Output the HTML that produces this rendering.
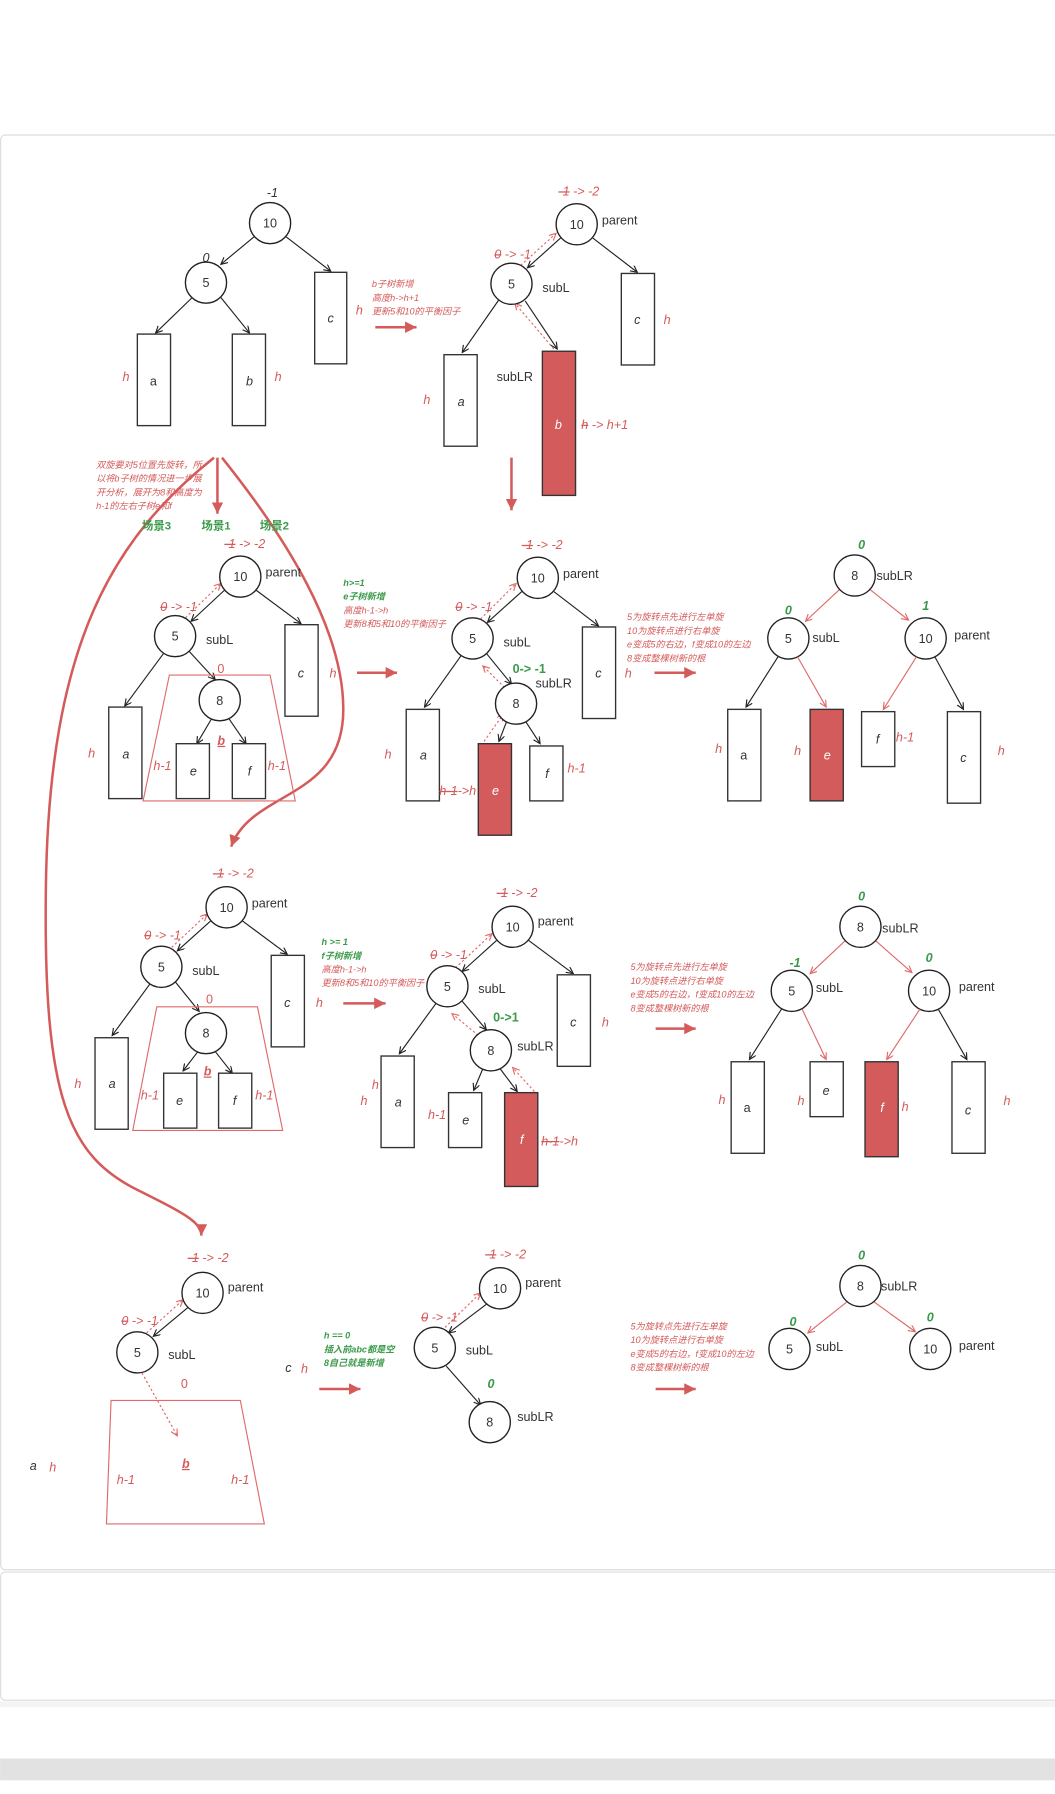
<!DOCTYPE html>
<html><head><meta charset="utf-8"><style>
html,body{margin:0;padding:0;background:#fff;}
svg{display:block;}
text{font-family:"Liberation Sans","Noto Sans CJK SC",sans-serif;}
.n{font-size:11px;fill:#333;text-anchor:middle;}
.l{font-size:11px;fill:#333;}
.i{font-style:italic;font-size:11px;fill:#333;text-anchor:middle;}
.r{font-style:italic;font-size:11px;fill:#d55a5a;}
.g{font-style:italic;font-size:11px;fill:#3a9a4a;font-weight:bold;}
.rs{font-style:italic;font-size:8px;fill:#d55a5a;}
.gs{font-style:italic;font-size:8px;fill:#3a9a4a;font-weight:bold;}
.c{fill:#fff;stroke:#222;stroke-width:1.2;}
.b{fill:#fff;stroke:#333;stroke-width:1.2;}
.f{fill:#d45b5b;stroke:#333;stroke-width:1.2;}
.k{stroke:#222;stroke-width:1;fill:none;marker-end:url(#ak);}
.rl{stroke:#e06a6a;stroke-width:1;fill:none;marker-end:url(#ar);}
.d{stroke:#e06a6a;stroke-width:1;fill:none;stroke-dasharray:2,2;marker-end:url(#ar);}
.tz{fill:none;stroke:#e06a6a;stroke-width:1;}
.big{stroke:#d55a5a;stroke-width:2.2;fill:none;}
</style></head><body>
<svg width="1055" height="1794" viewBox="0 0 922 1568" xmlns="http://www.w3.org/2000/svg">
<defs>
<marker id="ak" markerWidth="8" markerHeight="8" refX="6" refY="3" orient="auto" markerUnits="userSpaceOnUse"><path d="M0,0 L6,3 L0,6" fill="none" stroke="#222" stroke-width="1"/></marker>
<marker id="ar" markerWidth="8" markerHeight="8" refX="6" refY="3" orient="auto" markerUnits="userSpaceOnUse"><path d="M0,0 L6,3 L0,6" fill="none" stroke="#e06a6a" stroke-width="1"/></marker>
<marker id="at" markerWidth="12" markerHeight="12" refX="10" refY="5" orient="auto" markerUnits="userSpaceOnUse"><path d="M0,0 L10,5 L0,10 Z" fill="#d55a5a"/></marker>
</defs>
<rect x="0.5" y="118" width="930" height="1254" rx="4" fill="#fff" stroke="#dcdcdc"/>
<rect x="0.5" y="1374" width="930" height="112" rx="4" fill="#fff" stroke="#dcdcdc"/>
<rect x="0" y="1487" width="922" height="5" fill="#f3f4f6"/>
<rect x="0" y="1537" width="922" height="19" fill="#e2e2e2"/>

<!-- Panel 1 -->
<text class="i" x="238" y="172">-1</text>
<path class="k" d="M222,207 L193,231"/><path class="k" d="M250,207 L289,237"/>
<circle class="c" cx="236" cy="195" r="18"/><text class="n" x="236" y="199">10</text>
<text class="i" x="180" y="229">0</text>
<path class="k" d="M168,260 L136,291"/><path class="k" d="M193,260 L218,291"/>
<circle class="c" cx="180" cy="247" r="18"/><text class="n" x="180" y="251">5</text>
<rect class="b" x="275" y="238" width="28" height="80"/><text class="i" x="289" y="282">c</text>
<text class="r" x="311" y="275">h</text>
<rect class="b" x="120" y="292" width="29" height="80"/><text class="n" x="134" y="337">a</text>
<rect class="b" x="203" y="292" width="29" height="80"/><text class="i" x="218" y="337">b</text>
<text class="r" x="107" y="333">h</text><text class="r" x="240" y="333">h</text>
<text class="rs" x="325" y="251">b子树新增</text><text class="rs" x="325" y="263">高度h-&gt;h+1</text><text class="rs" x="325" y="275">更新5和10的平衡因子</text>
<path class="big" d="M328,286 L364,286" marker-end="url(#at)"/>

<!-- Panel 2 -->
<text class="r" x="488" y="171"><tspan text-decoration="line-through">-1</tspan> -&gt; -2</text>
<path class="k" d="M490,208 L461,234"/><path class="k" d="M518,208 L557,238"/>
<path class="d" d="M455,232 L486,204"/>
<circle class="c" cx="504" cy="196" r="18"/><text class="n" x="504" y="200">10</text>
<text class="l" x="526" y="196">parent</text>
<text class="r" x="432" y="226"><tspan text-decoration="line-through">0</tspan> -&gt; -1</text>
<path class="k" d="M436,262 L404,308"/><path class="k" d="M459,263 L487,305"/>
<path class="d" d="M484,305 L450,265"/>
<circle class="c" cx="447" cy="248" r="18"/><text class="n" x="447" y="252">5</text>
<text class="l" x="474" y="255">subL</text>
<rect class="b" x="543" y="239" width="29" height="80"/><text class="i" x="557" y="283">c</text><text class="r" x="580" y="283">h</text>
<rect class="b" x="388" y="310" width="29" height="80"/><text class="i" x="403" y="355">a</text><text class="r" x="370" y="353">h</text>
<text class="l" x="434" y="333">subLR</text>
<rect class="f" x="474" y="307" width="29" height="126"/><text class="i" x="488" y="375" style="fill:#fff">b</text>
<text class="r" x="508" y="375"><tspan text-decoration="line-through">h</tspan> -&gt; h+1</text>
<path class="big" d="M447,400 L447,446" marker-end="url(#at)"/>

<!-- branching notes -->
<text class="rs" x="84" y="409" font-style="normal">双旋要对5位置先旋转，所</text>
<text class="rs" x="84" y="421">以将b子树的情况进一步展</text>
<text class="rs" x="84" y="433">开分析，展开为8和高度为</text>
<text class="rs" x="84" y="445">h-1的左右子树e和f</text>
<path class="big" d="M190,400 L190,449" marker-end="url(#at)"/>
<path class="big" d="M187,400 C100,470 42,560 40,780 C38,960 60,1010 120,1040 C160,1060 176,1068 176,1080" marker-end="url(#at)"/>
<path class="big" d="M194,400 C250,470 300,550 300,620 C300,700 220,690 202,740" marker-end="url(#at)"/>
<text class="g" x="124" y="463" style="font-style:normal;font-size:10px">场景3</text>
<text class="g" x="176" y="463" style="font-style:normal;font-size:10px">场景1</text>
<text class="g" x="227" y="463" style="font-style:normal;font-size:10px">场景2</text>

<!-- Panel 3 -->
<text class="r" x="196" y="479"><tspan text-decoration="line-through">-1</tspan> -&gt; -2</text>
<path class="k" d="M196,516 L167,543"/><path class="k" d="M224,516 L263,545"/>
<path class="d" d="M162,540 L193,510"/>
<circle class="c" cx="210" cy="504" r="18"/><text class="n" x="210" y="508">10</text><text class="l" x="232" y="504">parent</text>
<text class="r" x="140" y="534"><tspan text-decoration="line-through">0</tspan> -&gt; -1</text>
<path class="k" d="M143,571 L109,617"/><path class="k" d="M165,569 L188,594"/>
<circle class="c" cx="153" cy="556" r="18"/><text class="n" x="153" y="560">5</text><text class="l" x="180" y="563">subL</text>
<rect class="b" x="249" y="546" width="29" height="80"/><text class="i" x="263" y="592">c</text><text class="r" x="288" y="592">h</text>
<path class="tz" d="M148,590 L236,590 L258,700 L125,700 Z"/>
<text class="r" x="190" y="588" style="font-style:normal">0</text>
<path class="k" d="M185,628 L172,650"/><path class="k" d="M200,628 L215,650"/>
<circle class="c" cx="192" cy="612" r="18"/><text class="n" x="192" y="616">8</text>
<text class="r" x="190" y="651" style="font-weight:bold;text-decoration:underline">b</text>
<rect class="b" x="95" y="618" width="29" height="80"/><text class="i" x="110" y="663">a</text><text class="r" x="77" y="662">h</text>
<rect class="b" x="154" y="650" width="29" height="48"/><text class="i" x="169" y="678">e</text>
<rect class="b" x="203" y="650" width="29" height="48"/><text class="i" x="218" y="678">f</text>
<text class="r" x="134" y="673">h-1</text><text class="r" x="234" y="673">h-1</text>
<text class="gs" x="300" y="512">h&gt;=1</text><text class="gs" x="300" y="524">e子树新增</text><text class="rs" x="300" y="536">高度h-1-&gt;h</text><text class="rs" x="300" y="548">更新8和5和10的平衡因子</text>
<path class="big" d="M312,588 L347,588" marker-end="url(#at)"/>

<!-- Panel 4 -->
<text class="r" x="456" y="480"><tspan text-decoration="line-through">-1</tspan> -&gt; -2</text>
<path class="k" d="M456,517 L426,544"/><path class="k" d="M484,517 L523,547"/>
<path class="d" d="M420,541 L451,510"/>
<circle class="c" cx="470" cy="505" r="18"/><text class="n" x="470" y="509">10</text><text class="l" x="492" y="505">parent</text>
<text class="r" x="398" y="534"><tspan text-decoration="line-through">0</tspan> -&gt; -1</text>
<path class="k" d="M403,573 L371,618"/><path class="k" d="M425,571 L447,598"/>
<path class="d" d="M441,601 L422,582"/>
<circle class="c" cx="413" cy="558" r="18"/><text class="n" x="413" y="562">5</text><text class="l" x="440" y="565">subL</text>
<rect class="b" x="509" y="548" width="29" height="80"/><text class="i" x="523" y="592">c</text><text class="r" x="546" y="592">h</text>
<text class="g" x="448" y="588" style="font-style:normal">0-&gt; -1</text>
<text class="l" x="468" y="601">subLR</text>
<path class="k" d="M443,630 L436,648"/><path class="k" d="M459,630 L472,650"/>
<path class="d" d="M423,648 L440,624"/>
<circle class="c" cx="451" cy="615" r="18"/><text class="n" x="451" y="619">8</text>
<rect class="b" x="355" y="620" width="29" height="80"/><text class="i" x="370" y="664">a</text><text class="r" x="336" y="663">h</text>
<rect class="f" x="418" y="650" width="29" height="80"/><text class="i" x="433" y="695" style="fill:#fff">e</text>
<text class="r" x="384" y="695"><tspan text-decoration="line-through">h-1</tspan>-&gt;h</text>
<rect class="b" x="463" y="652" width="29" height="48"/><text class="i" x="478" y="680">f</text><text class="r" x="496" y="675">h-1</text>
<text class="rs" x="548" y="542">5为旋转点先进行左单旋</text><text class="rs" x="548" y="554">10为旋转点进行右单旋</text><text class="rs" x="548" y="566">e变成5的右边，f变成10的左边</text><text class="rs" x="548" y="578">8变成整棵树新的根</text>
<path class="big" d="M572,588 L608,588" marker-end="url(#at)"/>

<!-- Panel 5 -->
<text class="g" x="750" y="480">0</text>
<path class="rl" d="M734,515 L704,543"/><path class="rl" d="M760,515 L794,542"/>
<circle class="c" cx="747" cy="503" r="18"/><text class="n" x="747" y="507">8</text><text class="l" x="766" y="507">subLR</text>
<text class="g" x="686" y="537">0</text>
<circle class="c" cx="689" cy="558" r="18"/><text class="n" x="689" y="562">5</text><text class="l" x="710" y="561">subL</text>
<text class="g" x="806" y="533">1</text>
<circle class="c" cx="809" cy="558" r="18"/><text class="n" x="809" y="562">10</text><text class="l" x="834" y="559">parent</text>
<path class="k" d="M680,574 L652,618"/><path class="rl" d="M697,574 L722,618"/>
<path class="rl" d="M801,574 L772,620"/><path class="k" d="M817,574 L842,620"/>
<rect class="b" x="636" y="620" width="29" height="80"/><text class="n" x="650" y="664">a</text><text class="r" x="625" y="658">h</text>
<rect class="f" x="708" y="620" width="29" height="80"/><text class="i" x="723" y="664" style="fill:#fff">e</text><text class="r" x="694" y="660">h</text>
<rect class="b" x="753" y="622" width="29" height="48"/><text class="i" x="767" y="650">f</text><text class="r" x="783" y="648">h-1</text>
<rect class="b" x="828" y="622" width="29" height="80"/><text class="i" x="842" y="666">c</text><text class="r" x="872" y="660">h</text>

<!-- Panel 6 -->
<text class="r" x="186" y="767"><tspan text-decoration="line-through">-1</tspan> -&gt; -2</text>
<path class="k" d="M184,805 L155,831"/><path class="k" d="M212,805 L251,834"/>
<path class="d" d="M150,828 L181,799"/>
<circle class="c" cx="198" cy="793" r="18"/><text class="n" x="198" y="797">10</text><text class="l" x="220" y="793">parent</text>
<text class="r" x="126" y="821"><tspan text-decoration="line-through">0</tspan> -&gt; -1</text>
<path class="k" d="M131,860 L98,905"/><path class="k" d="M153,858 L174,884"/>
<circle class="c" cx="141" cy="845" r="18"/><text class="n" x="141" y="849">5</text><text class="l" x="168" y="852">subL</text>
<rect class="b" x="237" y="835" width="29" height="80"/><text class="i" x="251" y="880">c</text><text class="r" x="276" y="880">h</text>
<path class="tz" d="M137,880 L225,880 L247,988 L116,988 Z"/>
<text class="r" x="180" y="877" style="font-style:normal">0</text>
<path class="k" d="M173,919 L160,936"/><path class="k" d="M188,919 L203,938"/>
<circle class="c" cx="180" cy="903" r="18"/><text class="n" x="180" y="907">8</text>
<text class="r" x="178" y="940" style="font-weight:bold;text-decoration:underline">b</text>
<rect class="b" x="83" y="907" width="29" height="80"/><text class="i" x="98" y="951">a</text><text class="r" x="65" y="951">h</text>
<rect class="b" x="143" y="938" width="29" height="48"/><text class="i" x="157" y="966">e</text>
<rect class="b" x="191" y="938" width="29" height="48"/><text class="i" x="205" y="966">f</text>
<text class="r" x="123" y="961">h-1</text><text class="r" x="223" y="961">h-1</text>
<text class="gs" x="281" y="826">h &gt;= 1</text><text class="gs" x="281" y="838">f子树新增</text><text class="rs" x="281" y="850">高度h-1-&gt;h</text><text class="rs" x="281" y="862">更新8和5和10的平衡因子</text>
<path class="big" d="M300,877 L337,877" marker-end="url(#at)"/>

<!-- Panel 7 -->
<text class="r" x="434" y="784"><tspan text-decoration="line-through">-1</tspan> -&gt; -2</text>
<path class="k" d="M434,822 L404,849"/><path class="k" d="M462,822 L501,851"/>
<path class="d" d="M398,846 L430,816"/>
<circle class="c" cx="448" cy="810" r="18"/><text class="n" x="448" y="814">10</text><text class="l" x="470" y="809">parent</text>
<text class="r" x="376" y="838"><tspan text-decoration="line-through">0</tspan> -&gt; -1</text>
<path class="k" d="M381,877 L349,921"/><path class="k" d="M403,874 L425,900"/>
<path class="d" d="M418,905 L395,886"/>
<circle class="c" cx="391" cy="862" r="18"/><text class="n" x="391" y="866">5</text><text class="l" x="418" y="868">subL</text>
<rect class="b" x="487" y="852" width="29" height="80"/><text class="i" x="501" y="897">c</text><text class="r" x="526" y="897">h</text>
<text class="g" x="431" y="893" style="font-style:normal">0-&gt;1</text>
<text class="l" x="452" y="918">subLR</text>
<path class="k" d="M422,934 L414,953"/><path class="k" d="M437,934 L452,954"/>
<path class="d" d="M467,954 L448,933"/>
<circle class="c" cx="429" cy="918" r="18"/><text class="n" x="429" y="922">8</text>
<rect class="b" x="333" y="923" width="29" height="80"/><text class="i" x="348" y="967">a</text>
<text class="r" x="325" y="952">h</text><text class="r" x="315" y="966">h</text>
<rect class="b" x="392" y="955" width="29" height="48"/><text class="i" x="407" y="983">e</text><text class="r" x="374" y="978">h-1</text>
<rect class="f" x="441" y="955" width="29" height="82"/><text class="i" x="456" y="1000" style="fill:#fff">f</text>
<text class="r" x="473" y="1001"><tspan text-decoration="line-through">h-1</tspan>-&gt;h</text>
<text class="rs" x="551" y="848">5为旋转点先进行左单旋</text><text class="rs" x="551" y="860">10为旋转点进行右单旋</text><text class="rs" x="551" y="872">e变成5的右边，f变成10的左边</text><text class="rs" x="551" y="884">8变成整棵树新的根</text>
<path class="big" d="M573,899 L608,899" marker-end="url(#at)"/>

<!-- Panel 8 -->
<text class="g" x="750" y="787">0</text>
<path class="rl" d="M739,822 L708,851"/><path class="rl" d="M765,822 L797,850"/>
<circle class="c" cx="752" cy="810" r="18"/><text class="n" x="752" y="814">8</text><text class="l" x="771" y="815">subLR</text>
<text class="g" x="690" y="845">-1</text>
<circle class="c" cx="692" cy="866" r="18"/><text class="n" x="692" y="870">5</text><text class="l" x="713" y="867">subL</text>
<text class="g" x="809" y="841">0</text>
<circle class="c" cx="812" cy="866" r="18"/><text class="n" x="812" y="870">10</text><text class="l" x="838" y="866">parent</text>
<path class="k" d="M683,882 L655,926"/><path class="rl" d="M701,882 L722,926"/>
<path class="rl" d="M804,882 L775,926"/><path class="k" d="M820,882 L845,926"/>
<rect class="b" x="639" y="928" width="29" height="80"/><text class="n" x="653" y="972">a</text><text class="r" x="628" y="965">h</text>
<rect class="b" x="708" y="928" width="29" height="48"/><text class="i" x="722" y="957">e</text><text class="r" x="697" y="966">h</text>
<rect class="f" x="756" y="928" width="29" height="83"/><text class="i" x="771" y="972" style="fill:#fff">f</text><text class="r" x="788" y="971">h</text>
<rect class="b" x="832" y="928" width="29" height="80"/><text class="i" x="846" y="974">c</text><text class="r" x="877" y="966">h</text>

<!-- Panel 9 -->
<text class="r" x="164" y="1103"><tspan text-decoration="line-through">-1</tspan> -&gt; -2</text>
<path class="k" d="M164,1143 L134,1168"/>
<path class="d" d="M128,1165 L160,1136"/>
<circle class="c" cx="177" cy="1130" r="18"/><text class="n" x="177" y="1134">10</text><text class="l" x="199" y="1129">parent</text>
<text class="r" x="106" y="1158"><tspan text-decoration="line-through">0</tspan> -&gt; -1</text>
<circle class="c" cx="120" cy="1182" r="18"/><text class="n" x="120" y="1186">5</text><text class="l" x="147" y="1188">subL</text>
<text class="r" x="158" y="1213" style="font-style:normal">0</text>
<path class="d" d="M124,1200 L155,1255"/>
<path class="tz" d="M97,1224 L210,1224 L231,1332 L93,1332 Z"/>
<text class="r" x="159" y="1283" style="font-weight:bold;text-decoration:underline">b</text>
<text class="r" x="102" y="1297">h-1</text><text class="r" x="202" y="1297">h-1</text>
<text class="i" x="29" y="1285">a</text><text class="r" x="43" y="1286">h</text>
<text class="i" x="252" y="1199">c</text><text class="r" x="263" y="1200">h</text>
<text class="gs" x="283" y="1170">h == 0</text><text class="gs" x="283" y="1182">插入前abc都是空</text><text class="gs" x="283" y="1194">8自己就是新增</text>
<path class="big" d="M279,1214 L315,1214" marker-end="url(#at)"/>

<!-- Panel 10 -->
<text class="r" x="424" y="1100"><tspan text-decoration="line-through">-1</tspan> -&gt; -2</text>
<path class="k" d="M425,1140 L392,1165"/>
<path class="d" d="M386,1163 L420,1130"/>
<circle class="c" cx="437" cy="1126" r="18"/><text class="n" x="437" y="1130">10</text><text class="l" x="459" y="1125">parent</text>
<text class="r" x="368" y="1155"><tspan text-decoration="line-through">0</tspan> -&gt; -1</text>
<path class="k" d="M390,1194 L420,1228"/>
<circle class="c" cx="380" cy="1178" r="18"/><text class="n" x="380" y="1182">5</text><text class="l" x="407" y="1184">subL</text>
<text class="g" x="426" y="1213">0</text>
<circle class="c" cx="428" cy="1243" r="18"/><text class="n" x="428" y="1247">8</text><text class="l" x="452" y="1242">subLR</text>
<text class="rs" x="551" y="1162">5为旋转点先进行左单旋</text><text class="rs" x="551" y="1174">10为旋转点进行右单旋</text><text class="rs" x="551" y="1186">e变成5的右边，f变成10的左边</text><text class="rs" x="551" y="1198">8变成整棵树新的根</text>
<path class="big" d="M573,1214 L608,1214" marker-end="url(#at)"/>

<!-- Panel 11 -->
<text class="g" x="750" y="1101">0</text>
<path class="rl" d="M740,1138 L706,1165"/><path class="rl" d="M764,1138 L800,1164"/>
<circle class="c" cx="752" cy="1124" r="18"/><text class="n" x="752" y="1128">8</text><text class="l" x="770" y="1128">subLR</text>
<text class="g" x="690" y="1159">0</text>
<circle class="c" cx="690" cy="1179" r="18"/><text class="n" x="690" y="1183">5</text><text class="l" x="713" y="1181">subL</text>
<text class="g" x="810" y="1155">0</text>
<circle class="c" cx="813" cy="1179" r="18"/><text class="n" x="813" y="1183">10</text><text class="l" x="838" y="1180">parent</text>
</svg>
</body></html>
